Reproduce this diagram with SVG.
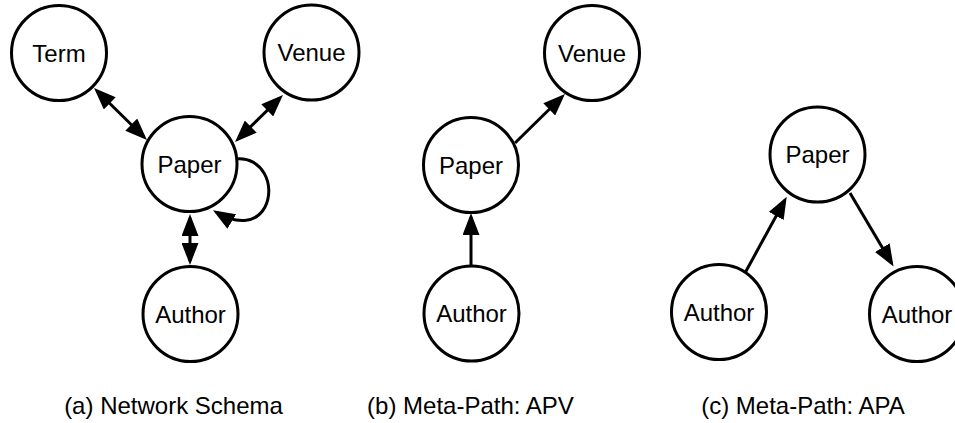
<svg xmlns="http://www.w3.org/2000/svg" width="955" height="423" viewBox="0 0 955 423">
<style>
.node circle{fill:#fff;stroke:#000;stroke-width:3}
.node text,.cap{font-family:"Liberation Sans",Arial,Helvetica,sans-serif;font-size:24px;fill:#000;text-anchor:middle}
.edge{fill:none;stroke:#000;stroke-width:3}
</style>
<defs>
<marker id="ah" markerUnits="userSpaceOnUse" markerWidth="22" markerHeight="17" refX="18" refY="8.5" orient="auto-start-reverse" viewBox="0 0 22 17">
<path d="M0,0 L22,8.5 L0,17 z" fill="#000"/>
</marker>
</defs>
<rect width="955" height="423" fill="#fff"/>
<g id="connectors">
<line class="edge" x1="96.9" y1="90.8" x2="144.1" y2="137.2" marker-start="url(#ah)" marker-end="url(#ah)"/>
<line class="edge" x1="280.1" y1="97.8" x2="237.9" y2="139.2" marker-start="url(#ah)" marker-end="url(#ah)"/>
<line class="edge" x1="190" y1="218" x2="190" y2="261" marker-start="url(#ah)" marker-end="url(#ah)"/>
<path class="edge" d="M236,159 C262,156 276,185 265,207 C256,224 236,224 216.4,212.2" marker-end="url(#ah)"/>
<line class="edge" x1="471" y1="265" x2="471" y2="217" marker-end="url(#ah)"/>
<line class="edge" x1="515" y1="143" x2="562.1" y2="96.8" marker-end="url(#ah)"/>
<line class="edge" x1="745" y1="273" x2="784.8" y2="200.2" marker-end="url(#ah)"/>
<line class="edge" x1="850" y1="193" x2="891.5" y2="263.1" marker-end="url(#ah)"/>
</g>
<g id="a-term" class="node"><circle cx="59" cy="53" r="47.5"/><text x="59" y="61.5">Term</text></g>
<g id="a-venue" class="node"><circle cx="311.5" cy="52.5" r="47.5"/><text x="311.5" y="61">Venue</text></g>
<g id="a-paper" class="node"><circle cx="189.5" cy="164" r="47.5"/><text x="189.5" y="172.5">Paper</text></g>
<g id="a-author" class="node"><circle cx="190.5" cy="314" r="47.5"/><text x="190.5" y="322.5">Author</text></g>
<g id="b-venue" class="node"><circle cx="592" cy="53" r="47.5"/><text x="592" y="61.5">Venue</text></g>
<g id="b-paper" class="node"><circle cx="471" cy="165" r="47.5"/><text x="471" y="173.5">Paper</text></g>
<g id="b-author" class="node"><circle cx="471.5" cy="313.5" r="47.5"/><text x="471.5" y="322">Author</text></g>
<g id="c-paper" class="node"><circle cx="817.5" cy="154.5" r="47.5"/><text x="817.5" y="163">Paper</text></g>
<g id="c-author-left" class="node"><circle cx="719" cy="312" r="47.5"/><text x="719" y="320.5">Author</text></g>
<g id="c-author-right" class="node"><circle cx="917" cy="314" r="47.5"/><text x="917" y="322.5">Author</text></g>
<g id="captions">
<text class="cap" x="173.5" y="414">(a) Network Schema</text>
<text class="cap" x="470.5" y="414">(b) Meta-Path: APV</text>
<text class="cap" x="803" y="414">(c) Meta-Path: APA</text>
</g>
</svg>
